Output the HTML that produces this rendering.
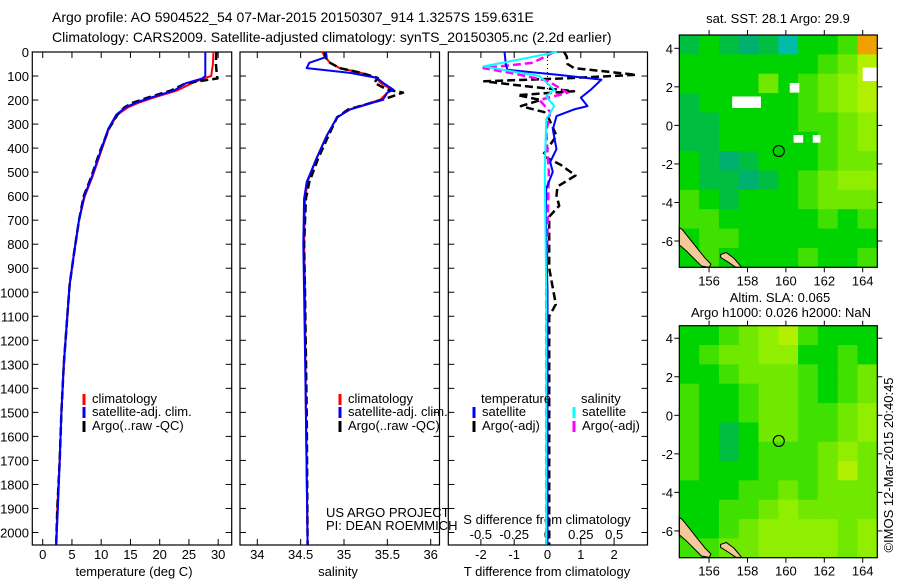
<!DOCTYPE html>
<html><head><meta charset="utf-8"><style>
body{margin:0;background:#fff}
svg{display:block;font-family:"Liberation Sans",sans-serif}
text{font-size:13px;fill:#000}
</style></head><body>
<svg id="s" width="900" height="580" viewBox="0 0 900 580">
<rect x="0" y="0" width="900" height="580" fill="#fff"/>
<text x="52" y="22" style="font-size:14px">Argo profile: AO 5904522_54 07-Mar-2015 20150307_914 1.3257S 159.631E</text>
<text x="52" y="42" style="font-size:14px">Climatology: CARS2009. Satellite-adjusted climatology: synTS_20150305.nc (2.2d earlier)</text>
<text x="134" y="576" text-anchor="middle">temperature (deg C)</text>
<text x="338" y="576" text-anchor="middle">salinity</text>
<text x="547" y="576" text-anchor="middle">T difference from climatology</text>
<text x="547" y="524" text-anchor="middle">S difference from climatology</text>
<text x="326" y="517">US ARGO PROJECT</text>
<text x="326" y="530">PI: DEAN ROEMMICH</text>
<text x="778" y="23" text-anchor="middle">sat. SST: 28.1 Argo: 29.9</text>
<text x="780" y="302" text-anchor="middle">Altim. SLA: 0.065</text>
<text x="781" y="317" text-anchor="middle">Argo h1000: 0.026 h2000: NaN</text>
<text transform="translate(893,465) rotate(-90)" text-anchor="middle">©IMOS 12-Mar-2015 20:40:45</text>
</svg>
<script>
// ---- profile data ----
const tDepths=[0,50,100,110,130,160,190,210,230,260,320,420,520,600,700,830,970,1100,1300,1500,1700,1900,2050];
const tClim=[29.2,29.1,28.8,27.5,25.5,23,19,16.5,14.6,12.8,11.3,9.9,8.5,7.2,6.2,5.4,4.6,4.2,3.6,3.2,2.9,2.5,2.3];
const tSat=[27.8,27.8,27.8,27.3,24.5,22.5,18.5,16,14.2,12.6,11.2,9.8,8.4,7.1,6.2,5.4,4.6,4.2,3.6,3.2,2.9,2.6,2.3];
const tArgo=[29.7,29.6,29.8,29.9,24.5,22,18,15.5,14,12.8,11.3,9.7,8.3,7.0,6.2,5.4,4.6,4.2,3.6,3.2,2.9,2.5,2.3];
const sDepths=[0,20,45,67,87,108,128,157,169,198,239,272,349,445,541,610,800,1000,1500,2050];
const sClim=[34.75,34.78,34.84,34.95,35.2,35.37,35.42,35.55,35.5,35.42,35.07,34.92,34.8,34.68,34.58,34.55,34.54,34.55,34.56,34.58];
const sSat=[34.79,34.8,34.6,34.57,35.07,35.38,35.45,35.57,35.5,35.45,35.07,34.92,34.8,34.68,34.57,34.54,34.53,34.54,34.56,34.58];
const sArgo=[34.78,34.78,34.84,34.95,35.2,35.39,35.35,35.5,35.68,35.45,35.05,34.92,34.82,34.7,34.6,34.56,34.54,34.55,34.57,34.58];
const dtSatDepths=[0,54,74,95,115,157,190,225,239,267,322,404,458,499,569,680,1000,1500,2050];
const dtSat=[-1.29,-1.25,-1.2,0.3,1.62,1.3,1.0,1.2,0.8,0.27,0.16,0.27,0.08,0.16,-0.04,-0.05,0,0,0];
const dtArgoDepths=[0,19,50,67,95,110,122,145,163,180,200,225,250,280,349,431,470,514,560,597,640,685,900,1050,1100,1500,2050];
const dtArgo=[0.5,0.58,0.6,0.8,2.66,0.5,-1.9,-0.5,0.8,-0.9,-0.2,-0.8,-0.1,0.05,0.27,-0.15,0.4,0.84,0.3,0.27,0.35,0.05,0.05,0.25,0.05,0.05,0.05];
const dsSatDepths=[0,30,60,100,157,184,225,280,500,1000,2050];
const dsSat=[0.07,-0.2,-0.48,-0.06,0.05,-0.01,0.05,-0.01,-0.02,-0.01,-0.01];
const dsArgoDepths=[0,45,67,90,120,170,200,250,330,500,1000,2050];
const dsArgo=[0.05,-0.11,-0.48,-0.25,0,0.15,-0.06,0.02,-0.01,0.01,-0.01,-0.01];
const depthTicks=[0,100,200,300,400,500,600,700,800,900,1000,1100,1200,1300,1400,1500,1600,1700,1800,1900,2000];
const tTicks=[0,5,10,15,20,25,30];
const sTicks=[34,34.5,35,35.5,36];
const sTickLabels=["34","34.5","35","35.5","36"];
const dtTicks=[-2,-1,0,1,2];
const dsTicks=[-0.5,-0.25,0,0.25,0.5];
const dsTickLabels=["-0.5","-0.25","0","0.25","0.5"];
// ---- map data (coarse grids, rows north->south) ----
const sstGrid=[
[0.45,0.5,0.45,0.4,0.45,0.35,0.5,0.5,0.55,0.85],
[0.5,0.5,0.5,0.5,0.5,0.5,0.5,0.55,0.6,0.7],
[0.5,0.5,0.5,0.5,0.6,0.5,0.55,0.6,0.65,0.7],
[0.45,0.5,0.5,0.5,0.5,0.5,0.55,0.6,0.65,0.7],
[0.45,0.45,0.5,0.5,0.5,0.5,0.55,0.55,0.6,0.65],
[0.45,0.45,0.5,0.5,0.5,0.5,0.5,0.55,0.6,0.65],
[0.5,0.45,0.4,0.45,0.5,0.5,0.5,0.55,0.6,0.6],
[0.5,0.45,0.45,0.4,0.45,0.5,0.55,0.6,0.65,0.65],
[0.55,0.5,0.45,0.5,0.5,0.5,0.55,0.6,0.6,0.6],
[0.55,0.55,0.5,0.5,0.5,0.5,0.5,0.55,0.5,0.55],
[0.5,0.55,0.55,0.5,0.5,0.5,0.5,0.5,0.5,0.5],
[0.5,0.55,0.5,0.5,0.5,0.5,0.55,0.5,0.5,0.55]];
const slaGrid=[
[0.5,0.5,0.55,0.6,0.65,0.7,0.55,0.5,0.5,0.5],
[0.5,0.55,0.6,0.6,0.65,0.65,0.5,0.5,0.55,0.5],
[0.5,0.5,0.55,0.6,0.6,0.6,0.55,0.5,0.55,0.6],
[0.55,0.5,0.5,0.55,0.6,0.6,0.55,0.5,0.55,0.6],
[0.55,0.5,0.5,0.55,0.6,0.6,0.55,0.55,0.6,0.65],
[0.55,0.5,0.45,0.5,0.6,0.6,0.55,0.55,0.6,0.65],
[0.55,0.5,0.45,0.5,0.55,0.55,0.55,0.6,0.65,0.6],
[0.55,0.5,0.5,0.5,0.55,0.55,0.55,0.6,0.7,0.6],
[0.5,0.5,0.5,0.55,0.55,0.6,0.55,0.6,0.6,0.6],
[0.5,0.5,0.55,0.55,0.6,0.65,0.6,0.6,0.6,0.6],
[0.5,0.5,0.55,0.6,0.65,0.65,0.65,0.65,0.6,0.65],
[0.55,0.55,0.6,0.6,0.65,0.65,0.65,0.65,0.6,0.65]];
const sstGapLon0=[160.2,157.2,164.0,160.4,161.4];
const sstGapLon1=[160.7,158.7,164.76,160.9,161.8];
const sstGapLat0=[2.2,1.5,3.0,-0.5,-0.5];
const sstGapLat1=[1.7,0.9,2.3,-0.9,-0.9];
const landLon=[154.45,154.6,155.0,155.4,155.8,156.1,156.0,155.6,155.2,154.8,154.45];
const landLat=[-5.3,-5.4,-5.9,-6.4,-6.9,-7.2,-7.37,-7.3,-6.9,-6.5,-6.2];
const land2Lon=[156.6,156.9,157.3,157.7,157.4,157.0,156.6];
const land2Lat=[-6.7,-6.6,-6.9,-7.37,-7.37,-7.1,-6.85];
const floatLon=159.63, floatLat=-1.33;
const lonTicks=[156,158,160,162,164];
const latTicks=[4,2,0,-2,-4,-6];

const NS='http://www.w3.org/2000/svg';
const svg=document.getElementById('s');
function el(t,a,p){const e=document.createElementNS(NS,t);for(const k in a)e.setAttribute(k,a[k]);(p||svg).appendChild(e);return e;}
const TOP=52,BOT=545,D0=52,DS=0.24025;
const yD=d=>D0+d*DS;
function panel(x0,x1,name){
 const g=el('g',{});
 
 
 const r=el('rect',{x:x0,y:TOP,width:x1-x0,height:BOT-TOP,fill:'none',stroke:'#000','stroke-width':1.2},g);
 
 
 depthTicks.forEach(d=>{el('line',{x1:x0,x2:x0+6,y1:yD(d),y2:yD(d),stroke:'#000'},g);el('line',{x1:x1,x2:x1-6,y1:yD(d),y2:yD(d),stroke:'#000'},g);});
 return g;
}
function xTicks(g,vals,labels,xf,ly,top){
 vals.forEach((v,i)=>{const x=xf(v);
  el('line',{x1:x,x2:x,y1:BOT,y2:BOT-6,stroke:'#000'},g);
  if(top)el('line',{x1:x,x2:x,y1:TOP,y2:TOP+6,stroke:'#000'},g);
  const t=el('text',{x:x,y:ly,'text-anchor':'middle'},g);t.textContent=labels[i];
  
  
 });
}
function line(g,xs,ds,xf,col,dash,name,w){
 const pts=xs.map((v,i)=>xf(v).toFixed(1)+','+yD(ds[i]).toFixed(1)).join(' ');
 const p=el('polyline',{points:pts,fill:'none',stroke:col,'stroke-width':w||2,'stroke-dasharray':dash||'none','stroke-linejoin':'round'},g);
 
 
}
function legend(g,x,y,col,label){
 el('line',{x1:x,x2:x,y1:y-9,y2:y+2,stroke:col,'stroke-width':3},g);
 const t=el('text',{x:x+8,y:y},g);t.textContent=label;
 
 
}
depthTicks.forEach(d=>{const t=el('text',{x:29,y:yD(d)+5,'text-anchor':'end'});t.textContent=d;
 
 });
const xT=v=>42.7+v*5.85;
const g1=panel(32.3,231.7,'temperature-panel');
xTicks(g1,tTicks,tTicks.map(String),xT,559,true);
line(g1,tClim,tDepths,xT,'#f00',null,'temperature-climatology-line');
line(g1,tArgo,tDepths,xT,'#000','8,4','temperature-argo-line',2.5);
line(g1,tSat,tDepths,xT,'#00f',null,'temperature-satellite-line');
legend(g1,84,403,'#f00','climatology');legend(g1,84,416,'#00f','satellite-adj. clim.');legend(g1,84,430,'#000','Argo(..raw -QC)');
const xS=v=>257.3+(v-34)*86.7;
const g2=panel(240,439.5,'salinity-panel');
xTicks(g2,sTicks,sTickLabels,xS,559,true);
line(g2,sClim,sDepths,xS,'#f00',null,'salinity-climatology-line');
line(g2,sArgo,sDepths,xS,'#000','8,4','salinity-argo-line',2.5);
line(g2,sSat,sDepths,xS,'#00f',null,'salinity-satellite-line');
legend(g2,340,403,'#f00','climatology');legend(g2,340,416,'#00f','satellite-adj. clim.');legend(g2,340,430,'#000','Argo(..raw -QC)');
const xDT=v=>547.5+v*33.3, xDS=v=>547.5+v*133.3;
const g3=panel(448.3,647.5,'difference-panel');
xTicks(g3,dtTicks,dtTicks.map(String),xDT,559,true);
dsTicks.forEach((v,i)=>{const t=el('text',{x:xDS(v),y:539,'text-anchor':'middle'},g3);t.textContent=dsTickLabels[i];
 
 });
el('line',{x1:xDT(0),x2:xDT(0),y1:TOP,y2:yD(200),stroke:'#000','stroke-dasharray':'1,3'},g3);
line(g3,dtArgo,dtArgoDepths,xDT,'#000','8,4','t-diff-argo-line',2.5);
line(g3,dsArgo,dsArgoDepths,xDS,'#f0f','8,4','s-diff-argo-line',2.5);
line(g3,dtSat,dtSatDepths,xDT,'#00f',null,'t-diff-satellite-line');
line(g3,dsSat,dsSatDepths,xDS,'#0ff',null,'s-diff-satellite-line');
{const t=el('text',{x:481,y:403},g3);t.textContent='temperature';
 const u=el('text',{x:581,y:403},g3);u.textContent='salinity';}
legend(g3,474,416,'#00f','satellite');legend(g3,474,430,'#000','Argo(-adj)');
legend(g3,574,416,'#0ff','satellite');legend(g3,574,430,'#f0f','Argo(-adj)');
const stops=[[0.3,[0,200,224]],[0.4,[0,176,112]],[0.45,[0,191,64]],[0.5,[0,212,0]],[0.55,[64,224,0]],[0.6,[112,232,0]],[0.65,[144,238,0]],[0.7,[176,240,0]],[0.8,[240,224,0]],[0.85,[240,160,0]],[0.9,[224,96,0]]];
function cmap(v){if(v<=stops[0][0])return 'rgb('+stops[0][1]+')';
 for(let i=1;i<stops.length;i++){if(v<=stops[i][0]){const a=stops[i-1],b=stops[i],f=(v-a[0])/(b[0]-a[0]);
  return 'rgb('+a[1].map((c,j)=>Math.round(c+(b[1][j]-c)*f)).join(',')+')';}}
 return 'rgb('+stops[stops.length-1][1]+')';}
const LON0=154.45,LON1=164.76,MX0=679.3,MX1=877.3;
function map(y0,y1,grid,name,lat0,gaps){
 const g=el('g',{});
 
 
 const xL=lo=>MX0+(lo-LON0)*(MX1-MX0)/(LON1-LON0);
 const yL=la=>y0+(lat0-la)*19.27;
 const nr=grid.length,nc=grid[0].length,cw=(MX1-MX0)/nc,ch=(y1-y0)/nr;
 grid.forEach((row,r)=>row.forEach((v,c)=>{
  const e=el('rect',{x:MX0+c*cw,y:y0+r*ch,width:cw+0.5,height:ch+0.5,fill:cmap(v)},g);
  
  
 }));
 if(gaps)sstGapLon0.forEach((lo,i)=>{el('rect',{x:xL(lo),y:yL(sstGapLat0[i]),width:xL(sstGapLon1[i])-xL(lo),height:yL(sstGapLat1[i])-yL(sstGapLat0[i]),fill:'#fff'},g);});
 const lp=el('polygon',{points:landLon.map((lo,i)=>xL(lo)+','+yL(landLat[i])).join(' '),fill:'#f5c89a',stroke:'#000','stroke-width':1},g);
 
 
 const lp2=el('polygon',{points:land2Lon.map((lo,i)=>xL(lo)+','+yL(land2Lat[i])).join(' '),fill:'#f5c89a',stroke:'#000','stroke-width':1},g);
 
 
 const c=el('circle',{cx:xL(floatLon),cy:yL(floatLat),r:5.5,fill:'none',stroke:'#000','stroke-width':1.2},g);
 
 
 el('rect',{x:MX0,y:y0,width:MX1-MX0,height:y1-y0,fill:'none',stroke:'#000','stroke-width':1.2},g);
 lonTicks.forEach(lo=>{const x=xL(lo);el('line',{x1:x,x2:x,y1:y0,y2:y0-5,stroke:'#000'},g);el('line',{x1:x,x2:x,y1:y1,y2:y1+5,stroke:'#000'},g);
  const t=el('text',{x:x,y:y1+18,'text-anchor':'middle'},g);t.textContent=lo;
  
  });
 latTicks.forEach(la=>{const y=yL(la);el('line',{x1:MX0,x2:MX0-5,y1:y,y2:y,stroke:'#000'},g);el('line',{x1:MX1,x2:MX1+5,y1:y,y2:y,stroke:'#000'},g);
  const t=el('text',{x:673,y:y+5,'text-anchor':'end'},g);t.textContent=la;
  
  });
}
map(35,267.3,sstGrid,'sst-map',4.69,true);
map(325.7,557.7,slaGrid,'sla-map',4.65,false);
</script>
</body></html>
